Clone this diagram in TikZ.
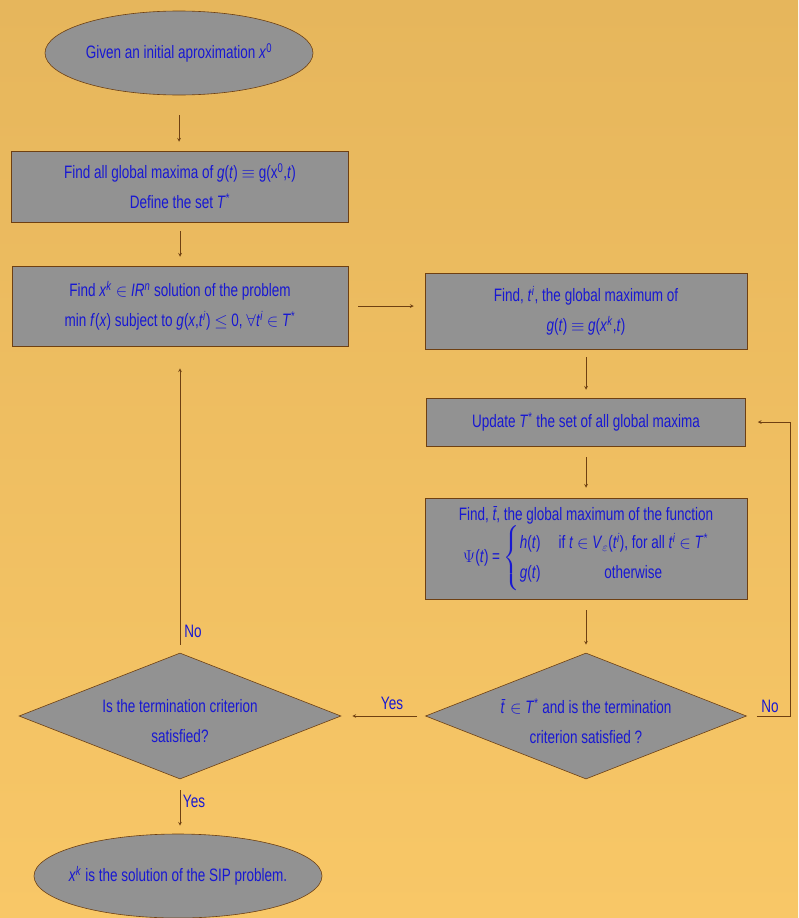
\documentclass[tikz,border=0pt]{standalone}
\usepackage{amsmath}
\usepackage{amssymb}
\usepackage{fontspec}
\setmainfont[FakeStretch=0.75]{Liberation Sans}
\usetikzlibrary{shapes.geometric,arrows,calc,positioning}
\definecolor{bgtop}{RGB}{230,182,92}
\definecolor{bgbot}{RGB}{248,199,103}
\definecolor{boxgray}{RGB}{146,146,146}
\definecolor{txtblue}{RGB}{24,24,210}
\definecolor{edgebrown}{RGB}{110,64,18}
\newcommand{\vi}[1]{\textit{#1}}

\begin{document}
\begin{tikzpicture}[x=1pt,y=-1pt]
	\tikzstyle{every node} = [text = txtblue, font = \fontsize{18}{30}\selectfont, align = center]
	\tikzstyle{block} = [rectangle, draw = edgebrown, line width = 0.5pt, fill = boxgray, inner sep = 0pt]
	\tikzstyle{term} = [ellipse, draw = edgebrown, line width = 0.6pt, fill = boxgray, inner sep = 0pt]
	\tikzstyle{test} = [diamond, aspect = 2.55, draw = edgebrown, line width = 0.6pt, fill = boxgray, inner sep = 0pt]
	\tikzstyle{link} = [draw = edgebrown, line width = 0.7pt, ->, >=stealth]
\fill[top color = bgtop, bottom color = bgbot] (0,0) rectangle (798,918);
\useasboundingbox (0,0) rectangle (798,918);
% left column
\node[term, minimum width = 268, minimum height = 84,
  label = {center:Given an initial aproximation \vi{x}\textsuperscript{0}}] (1) at (179, 53) {};
\node[block, minimum width = 337, minimum height = 71] (2) at (180, 186.5)
  {Find all global maxima of \vi{g}(\vi{t}) $\equiv$ g(x\textsuperscript{0},\vi{t})\\ Define the set \vi{T}\textsuperscript{*}};
\node[block, minimum width = 336, minimum height = 80] (3) at (180, 306)
  {Find \vi{x}\textsuperscript{\vi{k}} $\in$ \vi{IR}\textsuperscript{\vi{n}} solution of the problem\\
   min \vi{f}(\vi{x}) subject to \vi{g}(\vi{x},\vi{t}\textsuperscript{\vi{i}}) $\leq$ 0, $\forall$\vi{t}\textsuperscript{\vi{i}} $\in$ \vi{T}\textsuperscript{*}};
\node[test, minimum width = 322, minimum height = 126,
  label = {[yshift = -5pt]center:Is the termination criterion\\ satisfied?}] (8) at (180, 716) {};
\node[term, minimum width = 288, minimum height = 84,
  label = {center:\vi{x}\textsuperscript{\vi{k}} is the solution of the SIP problem.}] (9) at (178, 876) {};
% right column
\node[block, minimum width = 322, minimum height = 76] (4) at (586, 311)
  {Find, \vi{t}\textsuperscript{\vi{i}}, the global maximum of\\ \vi{g}(\vi{t}) $\equiv$ \vi{g}(\vi{x}\textsuperscript{\vi{k}},\vi{t})};
\node[block, minimum width = 319, minimum height = 48] (5) at (586, 422)
  {Update \vi{T}\textsuperscript{*} the set of all global maxima};
\node[block, minimum width = 322, minimum height = 101] (6) at (586, 548.5)
  {Find, \vi{\=t}, the global maximum of the function\\
   $\Psi$(\vi{t}) = $\left\{\begin{tabular}{@{}l@{\quad}l@{}}
     \vi{h}(\vi{t}) & if \vi{t} $\in$ \vi{V}\textsubscript{$\varepsilon$}(\vi{t}\textsuperscript{\vi{i}}), for all \vi{t}\textsuperscript{\vi{i}} $\in$ \vi{T}\textsuperscript{*}\\
     \vi{g}(\vi{t}) & \multicolumn{1}{c}{otherwise}
   \end{tabular}\right.$};
\node[test, minimum width = 321, minimum height = 126,
  label = {[yshift = -5pt]center:\vi{\=t} $\in$ \vi{T}\textsuperscript{*} and is the termination\\ criterion satisfied ?}] (7) at (586, 716) {};
% connectors
	\path[link, shorten <= 20pt, shorten >= 9pt] (1.south) -- (1.south |- 2.north);
	\path[link, shorten <= 9pt, shorten >= 9pt] (2) -- (3);
	\path[link, shorten <= 10pt, shorten >= 11pt] (3.east) -- (3.east -| 4.west);
	\path[link, shorten <= 8pt, shorten >= 8pt] (4) -- (5);
	\path[link, shorten <= 11pt, shorten >= 10pt] (5) -- (6);
	\path[link, shorten <= 11pt, shorten >= 8pt] (6) -- (7);
	\path[link, shorten <= 8pt, shorten >= 11pt] (7) -- (8);
	\path[link, shorten <= 10pt, shorten >= 12pt] (7.east) -- ++(44,0) |- (5.east);
	\path[link, shorten <= 8pt, shorten >= 22pt] (8.north) -- (8.north |- 3.south);
	\path[link, shorten <= 11pt, shorten >= 8pt] (8.south) -- (8.south |- 9.north);
% answers
 \node (y1) at (392, 703) {Yes};
 \node (n1) at (770, 706) {No};
 \node (n2) at (193, 631) {No};
 \node (y2) at (194, 801) {Yes};
\end{tikzpicture}
\end{document}
